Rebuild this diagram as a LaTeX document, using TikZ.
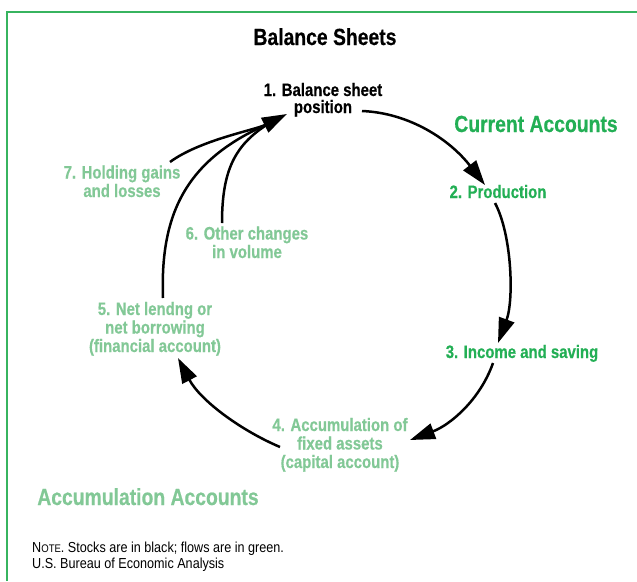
\documentclass[tikz,border=0pt]{standalone}
\usepackage{fontspec}
\setmainfont{Liberation Sans}[FakeStretch=0.83, BoldFeatures={FakeBold=0.5}]
\newfontfamily\notefont{Liberation Sans}[FakeStretch=0.87]
\usetikzlibrary{arrows.meta}
\definecolor{dkgreen}{RGB}{35,175,85}
\definecolor{ltgreen}{RGB}{130,200,150}
\definecolor{framegreen}{RGB}{55,180,95}
\begin{document}
\begin{tikzpicture}[x=1pt,y=-1pt,
  lbl/.style={font=\bfseries\fontsize{18pt}{18.5pt}\selectfont, align=center, inner sep=0pt, anchor=base},
  stock/.style={lbl, text=black},
  flow/.style={lbl, text=ltgreen},
  cflow/.style={lbl, text=dkgreen},
  heading/.style={font=\bfseries\fontsize{23.3pt}{24pt}\selectfont, inner sep=0pt, anchor=base},
  notestyle/.style={font=\notefont\fontsize{14.5pt}{16pt}\selectfont, align=left, inner sep=0pt, anchor=base west},
  conn/.style={line width=2.5pt, black},
  tipped/.style={-{Triangle[length=25pt,width=16pt]}},
]
\useasboundingbox (0,0) rectangle (637,581);
\draw[framegreen, line width=2.5pt] (7,581) -- (7,12) -- (637,12);

\node[heading] (title) at (325,45) {Balance Sheets};
\node[stock, font=\bfseries\fontsize{18pt}{17pt}\selectfont] (n1) at (323,113) {1. Balance sheet\\position};
\node[heading, text=dkgreen] (cur) at (536,132) {Current Accounts};
\node[cflow] (n2) at (498,198) {2. Production};
\node[cflow] (n3) at (522,358) {3. Income and saving};
\node[flow] (n4) at (340,468) {4. Accumulation of\\fixed assets\\(capital account)};
\node[flow] (n5) at (155,352) {5. Net lendng or\\net borrowing\\(financial account)};
\node[flow] (n6) at (247,258) {6. Other changes\\in volume};
\node[flow] (n7) at (122,197) {7. Holding gains\\and losses};
\node[heading, text=ltgreen] (acc) at (148,505) {Accumulation Accounts};
\node[notestyle] (note) at (32,568) {N{\fontsize{11pt}{11pt}\selectfont OTE}. Stocks are in black; flows are in green.\\U.S. Bureau of Economic Analysis};

\coordinate (a1s) at (362,111);
\coordinate (a1e) at (485,185);
\coordinate (a2s) at (495,203);
\coordinate (a2e) at (498,343);
\coordinate (a3s) at (493,363);
\coordinate (a3e) at (410,440);
\coordinate (a4s) at (280,447);
\coordinate (a4e) at (178,358);
\coordinate (a5s) at (163,298);
\coordinate (a6s) at (222,223);
\coordinate (a7s) at (170,162);
\coordinate (join) at (268,124);
\coordinate (a7e) at (287,114);

\draw[conn, tipped] (a1s) .. controls (410,113) and (450,140) .. (a1e);
\draw[conn, tipped] (a2s) .. controls (512,235) and (514,300) .. (a2e);
\draw[conn, tipped] (a3s) .. controls (480,400) and (450,425) .. (a3e);
\draw[conn, tipped] (a4s) .. controls (240,430) and (200,400) .. (a4e);
\draw[conn] (a5s) .. controls (160,215) and (185,160) .. (join);
\draw[conn] (a6s) .. controls (222,170) and (235,145) .. (join);
\draw[conn, tipped] (a7s) .. controls (200,140) and (255,130) .. (a7e);
\end{tikzpicture}
\end{document}
